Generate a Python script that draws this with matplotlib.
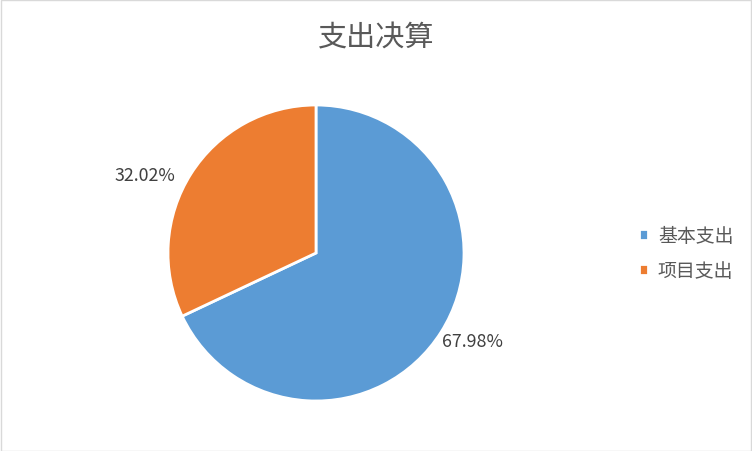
import matplotlib
matplotlib.use("Agg")
import numpy as np
import matplotlib.pyplot as plt
from matplotlib.patches import Rectangle

plt.rcParams['font.family'] = ['Noto Sans CJK SC', 'DejaVu Sans']

# Data
categories = ['基本支出', '项目支出']
shares = [67.98, 32.02]
colors = ['#5B9BD5', '#ED7D31']
title = '支出决算'

# label placement (radius multiple, angle nudge in degrees), like the Excel layout
label_dist = [1.21, 1.27]
label_nudge = [3, 8]

fig = plt.figure(figsize=(7.52, 4.52), dpi=100, facecolor='white')

# square pie area: centre ~(316, 254) px, radius ~148 px
ax = fig.add_axes([168 / 752, 50 / 452, 296 / 752, 296 / 452])
wedges, texts, autotexts = ax.pie(
    shares, colors=colors, startangle=90, counterclock=False,
    autopct='%.2f%%', pctdistance=1.24, radius=1.0,
    wedgeprops=dict(edgecolor='white', linewidth=2),
    textprops=dict(color='#404040', fontsize=12.8))
for w, t, d, n in zip(wedges, autotexts, label_dist, label_nudge):
    ang = np.deg2rad((w.theta1 + w.theta2) / 2 + n)
    t.set_position((d * np.cos(ang), d * np.sin(ang)))
ax.set_xlim(-1.0, 1.0)
ax.set_ylim(-1.0, 1.0)
ax.set_aspect('equal')
ax.axis('off')

fig.text(376 / 752, 1 - 38 / 452, title, ha='center', va='center',
         fontsize=21, color='#595959', fontweight='light')

leg = fig.legend(wedges, categories, loc='center left',
                 bbox_to_anchor=(622 / 752, 1 - 254 / 452),
                 frameon=False, fontsize=13.6, labelcolor='#595959',
                 handlelength=0.5, handleheight=0.5, handletextpad=0.5,
                 labelspacing=0.75)

# light chart border
fig.patches.append(Rectangle((0.5 / 752, 0.5 / 452), 1 - 1.5 / 752, 1 - 1.5 / 452,
                             transform=fig.transFigure, fill=False,
                             edgecolor='#D9D9D9', linewidth=1))

fig.savefig('out.png', dpi=100, facecolor='white')
